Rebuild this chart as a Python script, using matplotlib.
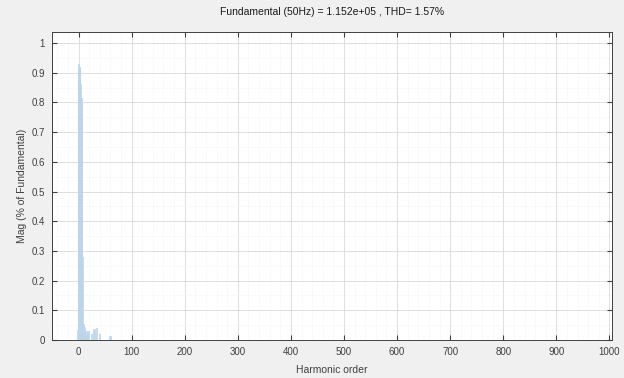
import numpy as np
import matplotlib
matplotlib.use("Agg")
import matplotlib.pyplot as plt
from matplotlib.ticker import AutoMinorLocator

# ----------------------
# DATA
# ----------------------
harmonic = [0, 1, 2, 3, 4, 5, 6, 7, 8, 9, 10, 11, 12, 14, 16, 18, 20, 25, 30, 35, 40, 60]
mag      = [0.03, 0.93, 0.91, 0.92, 0.86, 0.80, 0.81, 0.80, 0.28, 0.05, 0.03, 0.04,
            0.03, 0.02, 0.03, 0.02, 0.03, 0.02, 0.035, 0.04, 0.02, 0.01]

title_txt = "Fundamental (50Hz) = 1.152e+05 , THD= 1.57%"
xticks = np.arange(0, 1001, 100)
yticks = np.round(np.arange(0, 1.01, 0.1), 1)

# ----------------------
# PLOT
# ----------------------
plt.rcParams['font.family'] = ['Liberation Sans', 'DejaVu Sans']

fig = plt.figure(figsize=(6.24, 3.78), dpi=100, facecolor='#f0f0f0')
ax = fig.add_axes([0.0833, 0.1005, 0.8977, 0.8148])
ax.set_facecolor('white')

ax.bar(harmonic, mag, width=0.9, color='#bcd5ec', edgecolor='#bcd5ec',
       linewidth=1.2, zorder=3)

ax.set_xlim(-50, 1005)
ax.set_ylim(0, 1.037)
ax.set_xticks(xticks)
ax.set_yticks(yticks)
ax.set_yticklabels(['0' if v == 0 else f"{v:g}" for v in yticks])
ax.xaxis.set_minor_locator(AutoMinorLocator(5))
ax.yaxis.set_minor_locator(AutoMinorLocator(2))

ax.grid(True, which='major', color='#d9d9d9', linewidth=0.6, zorder=0)
ax.grid(True, which='minor', color='#ececec', linewidth=0.5, linestyle=':', zorder=0)
ax.set_axisbelow(True)

ax.tick_params(which='both', direction='in', top=True, right=True,
               labelsize=7, colors='#404040', length=3.5, pad=5)
ax.tick_params(which='minor', length=0)
for s in ax.spines.values():
    s.set_color('#404040')
    s.set_linewidth(0.7)

ax.set_title(title_txt, fontsize=7.5, color='#1a1a1a', pad=12)
ax.set_xlabel("Harmonic order", fontsize=7.5, color='#404040', labelpad=6)
ax.set_ylabel("Mag (% of Fundamental)", fontsize=7.5, color='#404040', labelpad=3)

fig.savefig("out.png", dpi=100, facecolor=fig.get_facecolor())
